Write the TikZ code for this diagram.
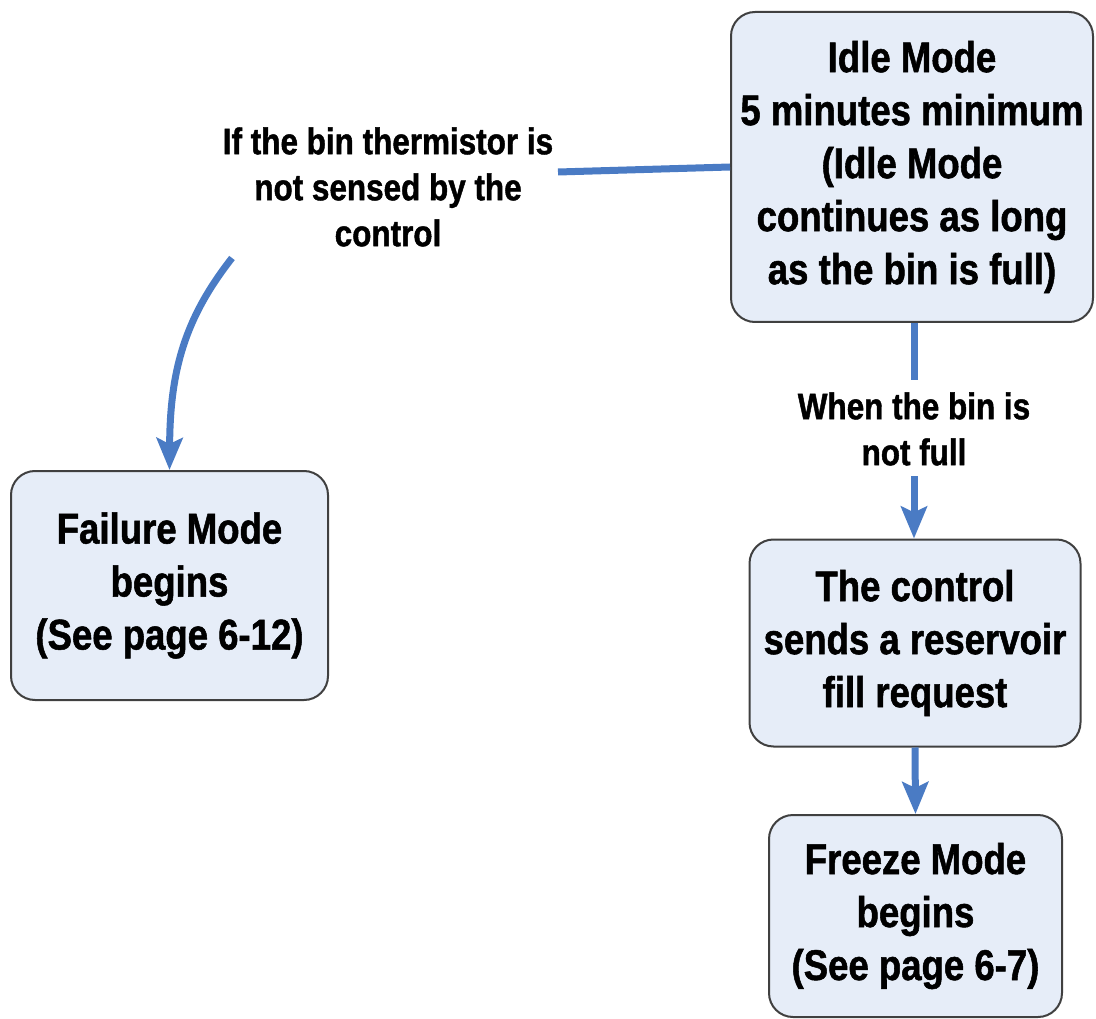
\documentclass[tikz,border=0pt]{standalone}
\usepackage{fontspec}
\setmainfont{Liberation Sans}[FakeStretch=0.85, BoldFeatures={FakeBold=1.2}]
\usetikzlibrary{arrows.meta}
\definecolor{flowblue}{HTML}{4A7BC4}
\definecolor{boxfill}{HTML}{E6EDF8}
\definecolor{boxedge}{HTML}{404040}
\tikzset{
  flowbox/.style={draw=boxedge, line width=2pt, fill=boxfill, rounded corners=24pt,
    align=center, inner sep=0pt, font=\bfseries\fontsize{43}{53}\selectfont},
  flowlabel/.style={align=center, inner sep=0pt, font=\bfseries\fontsize{37}{46}\selectfont},
  flowline/.style={draw=flowblue, line width=7pt},
  flowarrow/.style={flowline, -{Stealth[length=32pt,width=26pt,inset=6pt]}}
}
\begin{document}
\begin{tikzpicture}[x=1pt,y=-1pt]
\useasboundingbox (0,0) rectangle (1096,1019);
\node[flowbox, minimum width=362pt, minimum height=310pt] (idle) at (912,167)
  {Idle Mode\\5 minutes minimum\\(Idle Mode\\continues as long\\as the bin is full)};
\node[flowbox, minimum width=317pt, minimum height=229pt] (fail) at (169.5,585.5)
  {Failure Mode\\begins\\(See page 6-12)};
\node[flowbox, minimum width=331pt, minimum height=207pt] (ctrl) at (915,643)
  {The control\\sends a reservoir\\fill request};
\node[flowbox, minimum width=293pt, minimum height=202pt] (frz) at (915.5,916)
  {Freeze Mode\\begins\\(See page 6-7)};
\node[flowlabel] (lab1) at (388,187)
  {If the bin thermistor is\\not sensed by the\\control};
\node[flowlabel] (lab2) at (914,429)
  {When the bin is\\not full};
\coordinate (c1) at (558,172);
\coordinate (c2) at (232,258);
\coordinate (c3) at (914,380);
\coordinate (c4) at (914,476);
\draw[flowline] (idle.west) -- (c1);
\draw[flowarrow] (c2) .. controls (185,318) and (170,370) .. (fail.north);
\draw[flowline] (idle.south -| c3) -- (c3);
\draw[flowarrow] (c4) -- (c4 |- ctrl.north);
\draw[flowarrow] (ctrl.south) -- (frz.north);
\end{tikzpicture}
\end{document}
